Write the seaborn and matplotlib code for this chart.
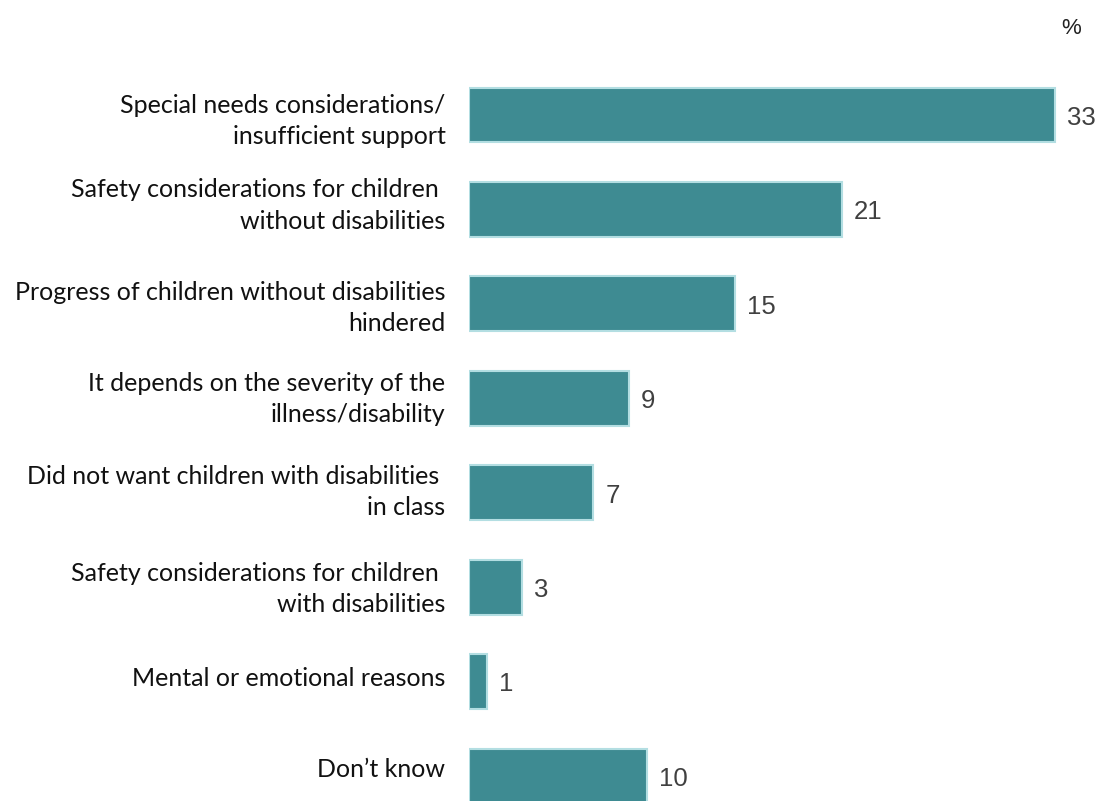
import matplotlib
matplotlib.use("Agg")
import matplotlib.pyplot as plt
import matplotlib.transforms as mtransforms
import seaborn as sns
import pandas as pd

categories = [
    "Special needs considerations/\ninsufficient support",
    "Safety considerations for children \nwithout disabilities",
    "Progress of children without disabilities\nhindered",
    "It depends on the severity of the\nillness/disability",
    "Did not want children with disabilities \nin class",
    "Safety considerations for children \nwith disabilities",
    "Mental or emotional reasons",
    "Don\u2019t know",
]
values = [33, 21, 15, 9, 7, 3, 1, 10]
unit_label = "%"

# vertical nudge of each category label relative to its bar, in pixels (up is positive)
label_nudge_px = [0, 10, 2, 5.5, 6.5, 4.5, 5, 8]

df = pd.DataFrame({"reason": categories, "pct": values})

sns.set_theme(style="white")
plt.rcParams["font.family"] = ["Lato", "DejaVu Sans"]

fig = plt.figure(figsize=(10.97, 8.01), dpi=100)
ax = fig.add_axes([469 / 1097, 0, 1 - 469 / 1097, 1])

sns.barplot(
    data=df, x="pct", y="reason", orient="h",
    color="#3E8B92", saturation=1, width=0.58,
    edgecolor="#B3DEE2", linewidth=1.5, ax=ax,
)

ax.set_xlim(0, (1097 - 469) / 17.76)
ax.set_ylim(7.265, -1.218)

for i, v in enumerate(values):
    ax.text(v + 0.68, i + 0.03, str(v), va="center", ha="left",
            fontsize=18.5, color="#404040", family="Liberation Sans")

ax.set_xlabel("")
ax.set_ylabel("")
ax.set_xticks([])
ax.tick_params(axis="y", length=0, pad=17)
for lab, dy in zip(ax.get_yticklabels(), label_nudge_px):
    lab.set_fontsize(18)
    lab.set_color("#111111")
    lab.set_linespacing(1.43)
    lab.set_multialignment("right")
    lab.set_transform(lab.get_transform() +
                      mtransforms.ScaledTranslation(0, dy / 100, fig.dpi_scale_trans))
sns.despine(ax=ax, left=True, bottom=True)

fig.text(1071 / 1097, 1 - 28 / 801, unit_label, ha="center", va="center",
         fontsize=16, color="#222222", family="Liberation Sans")

fig.savefig("out.png", dpi=100)
